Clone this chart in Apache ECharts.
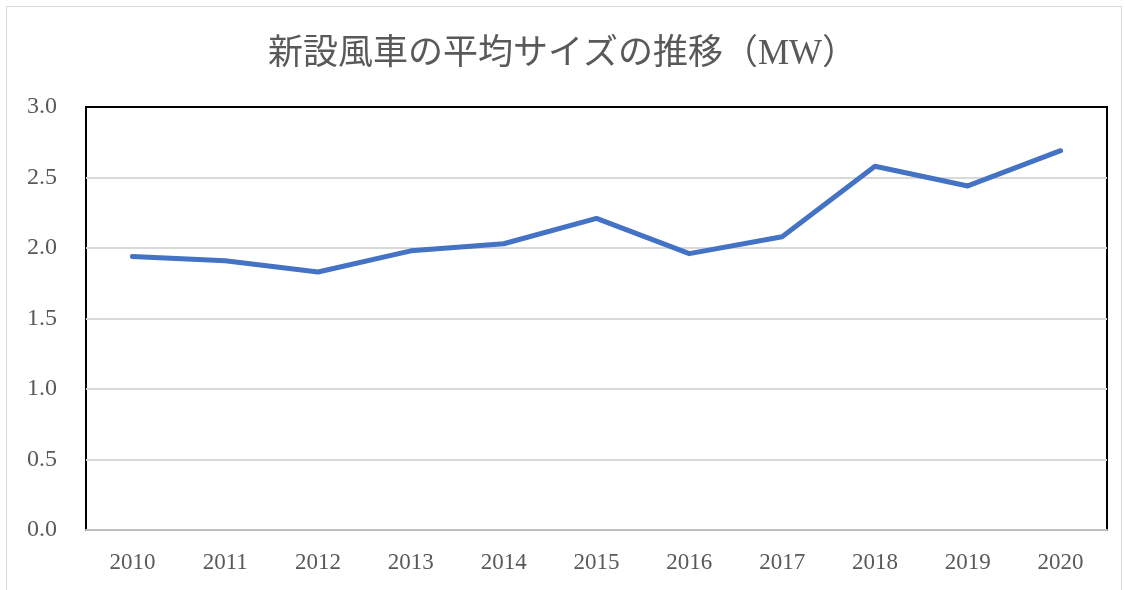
<!DOCTYPE html>
<html>
<head>
<meta charset="utf-8">
<script src="https://cdn.jsdelivr.net/npm/echarts@6/dist/echarts.min.js"></script>
<style>
  html, body {margin: 0; padding: 0; background: #fff;}
  #frame {position: absolute; left: 6px; top: 6px; width: 1116px; height: 600px; border: 1px solid #d9d9d9; box-sizing: border-box;}
  #chart {position: absolute; left: 0; top: 0; width: 1125px; height: 590px;}
</style>
</head>
<body>
<div id="frame"></div>
<div id="chart"></div>
<script>
  const years = ['2010', '2011', '2012', '2013', '2014', '2015', '2016', '2017', '2018', '2019', '2020']
  const avgSize = [1.94, 1.91, 1.83, 1.98, 2.03, 2.21, 1.96, 2.08, 2.58, 2.44, 2.69]
  const yTicks = [0, 3, 0.5] // min, max, interval

  const serif = '"Liberation Serif", "DejaVu Serif", "Noto Sans CJK JP", serif'
  const chart = echarts.init(document.getElementById('chart'), null, {renderer: 'canvas'})

  chart.setOption({
    animation: false,
    title: {
      text: '新設風車の平均サイズの推移（MW）',
      left: 'center',
      top: 32,
      textStyle: {
        fontFamily: serif,
        fontWeight: 'normal',
        fontSize: 35,
        color: '#595959'
      }
    },
    grid: {
      left: 86,
      right: 18,
      top: 107,
      bottom: 60,
      show: true,
      borderColor: '#000',
      borderWidth: 2,
      backgroundColor: 'transparent'
    },
    xAxis: {
      type: 'category',
      data: years,
      boundaryGap: true,
      z: 2,
      axisTick: {show: false},
      axisLine: {show: true, lineStyle: {color: '#bfbfbf', width: 2}},
      axisLabel: {
        fontFamily: serif,
        fontSize: 23,
        color: '#595959',
        margin: 21
      }
    },
    yAxis: {
      type: 'value',
      min: yTicks[0],
      max: yTicks[1],
      interval: yTicks[2],
      axisLine: {show: false},
      axisTick: {show: false},
      splitLine: {showMaxLine: false, showMinLine: false, lineStyle: {color: '#d9d9d9', width: 2}},
      axisLabel: {
        fontFamily: serif,
        fontSize: 24,
        color: '#595959',
        margin: 29,
        formatter: val => val.toFixed(1)
      }
    },
    series: [{
      type: 'line',
      data: avgSize,
      symbol: 'none',
      lineStyle: {color: '#4472c4', width: 5, cap: 'round', join: 'round'},
      z: 3
    }]
  })
</script>
</body>
</html>
